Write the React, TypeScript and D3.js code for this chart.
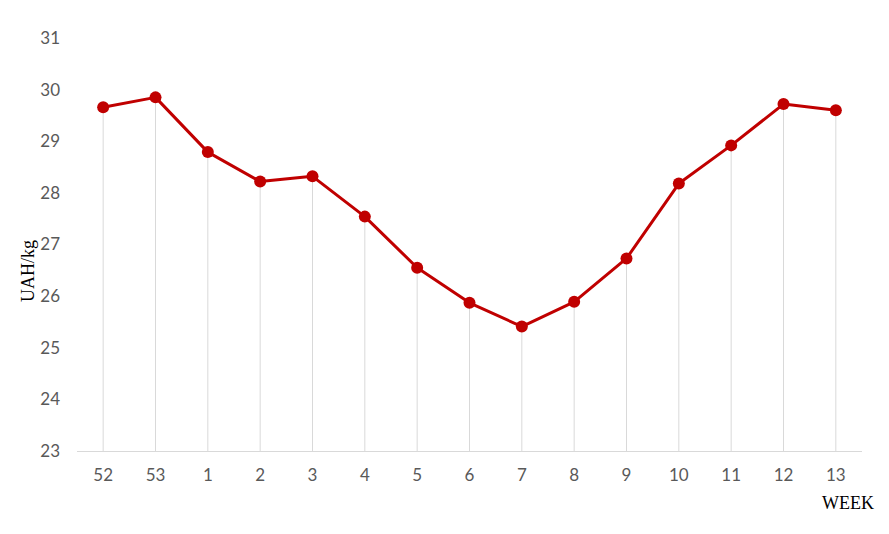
import React, { useEffect, useRef } from "react";
import * as d3 from "d3";

const weeks = ["52", "53", "1", "2", "3", "4", "5", "6", "7", "8", "9", "10", "11", "12", "13"];
const prices = [29.66, 29.85, 28.79, 28.22, 28.32, 27.54, 26.55, 25.87, 25.41, 25.89, 26.73, 28.18, 28.92, 29.72, 29.6];
const yTicks = [23, 24, 25, 26, 27, 28, 29, 30, 31];

const W = 889;
const H = 534;

export default function App() {
  const svgRef = useRef<SVGSVGElement>(null);

  useEffect(() => {
    const svg = d3.select(svgRef.current);
    svg.selectAll("*").remove();

    const left = 77;
    const right = 862;
    const top = 38;
    const bottom = 451;

    const x = d3.scaleBand<string>().domain(weeks).range([left, right]);
    const y = d3.scaleLinear().domain([23, 31]).range([bottom, top]);
    const cx = (w: string) => x(w)! + x.bandwidth() / 2;

    const data = weeks.map((w, i) => ({ week: w, value: prices[i] }));

    // drop lines
    svg.append("g")
      .selectAll("line")
      .data(data)
      .enter()
      .append("line")
      .attr("x1", (d) => cx(d.week))
      .attr("x2", (d) => cx(d.week))
      .attr("y1", (d) => y(d.value))
      .attr("y2", bottom)
      .attr("stroke", "#d9d9d9")
      .attr("stroke-width", 1);

    // x axis line
    svg.append("line")
      .attr("x1", left)
      .attr("x2", right)
      .attr("y1", bottom + 0.5)
      .attr("y2", bottom + 0.5)
      .attr("stroke", "#d9d9d9")
      .attr("stroke-width", 1);

    // y tick labels
    svg.append("g")
      .selectAll("text")
      .data(yTicks)
      .enter()
      .append("text")
      .attr("x", 60)
      .attr("y", (d) => y(d))
      .attr("dy", "0.35em")
      .attr("text-anchor", "end")
      .attr("font-family", "Lato, 'Open Sans', sans-serif")
      .attr("font-size", "17px")
      .attr("fill", "#595959")
      .text((d) => d);

    // x tick labels
    svg.append("g")
      .selectAll("text")
      .data(weeks)
      .enter()
      .append("text")
      .attr("x", (d) => cx(d))
      .attr("y", 481)
      .attr("text-anchor", "middle")
      .attr("font-family", "Lato, 'Open Sans', sans-serif")
      .attr("font-size", "17px")
      .attr("fill", "#595959")
      .text((d) => d);

    const line = d3
      .line<{ week: string; value: number }>()
      .x((d) => cx(d.week))
      .y((d) => y(d.value));

    svg.append("path")
      .datum(data)
      .attr("d", line)
      .attr("fill", "none")
      .attr("stroke", "#c00000")
      .attr("stroke-width", 3)
      .attr("stroke-linejoin", "round");

    svg.append("g")
      .selectAll("circle")
      .data(data)
      .enter()
      .append("circle")
      .attr("cx", (d) => cx(d.week))
      .attr("cy", (d) => y(d.value))
      .attr("r", 6)
      .attr("fill", "#c00000");

    // axis titles
    svg.append("text")
      .attr("transform", `translate(34, 271) rotate(-90)`)
      .attr("text-anchor", "middle")
      .attr("font-family", "'Liberation Serif', 'DejaVu Serif', serif")
      .attr("font-size", "18px")
      .attr("fill", "#000")
      .text("UAH/kg");

    svg.append("text")
      .attr("x", 874)
      .attr("y", 509)
      .attr("text-anchor", "end")
      .attr("font-family", "'Liberation Serif', 'DejaVu Serif', serif")
      .attr("font-size", "18px")
      .attr("fill", "#000")
      .text("WEEK");
  }, []);

  return (
    <svg
      ref={svgRef}
      width={W}
      height={H}
      style={{ position: "absolute", left: 0, top: 0, background: "#fff" }}
    />
  );
}
